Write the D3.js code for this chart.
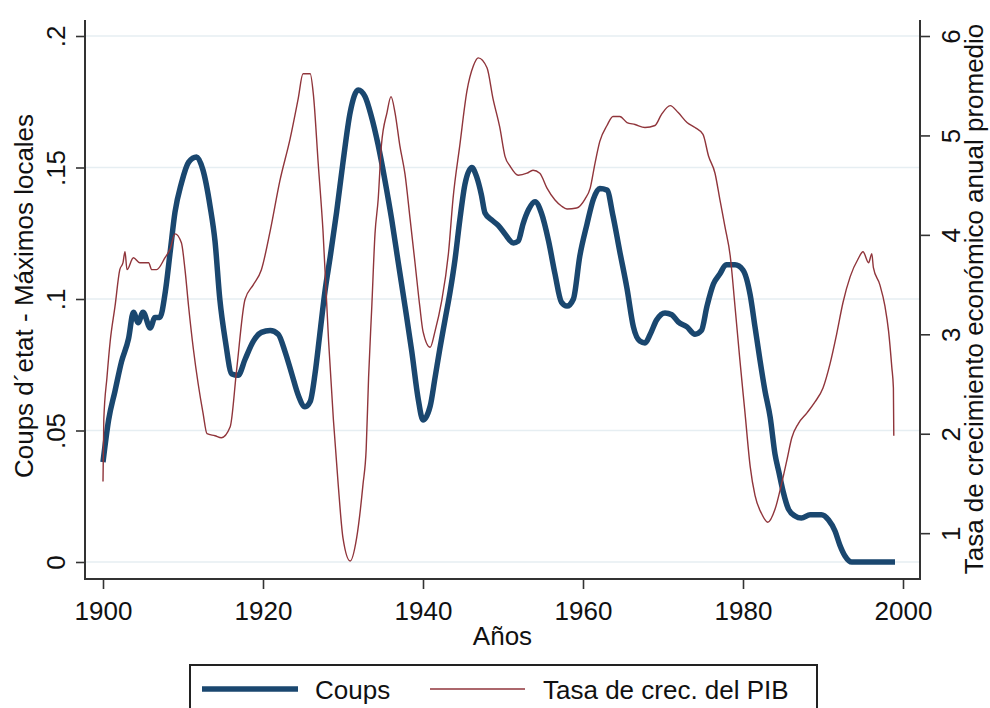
<!DOCTYPE html>
<html lang="es">
<head>
    <meta charset="UTF-8">
    <title>Coups y crecimiento del PIB</title>
    <script src="https://d3js.org/d3.v7.min.js"></script>
    <style>
        body {
            margin: 0;
            background: #ffffff;
            font-family: 'Liberation Sans', Arial, sans-serif;
        }
        text {
            fill: #111111;
        }
    </style>
</head>
<body>
<div id="chart"></div>

<script>
// Coups d'etat - local maxima (left axis)
const coupsYears = [1900.0, 1900.7, 1901.5, 1902.3, 1903.2, 1903.8, 1904.4, 1905.0, 1905.9, 1906.5,
    1907.1, 1907.8, 1908.4, 1909.0, 1909.8, 1910.7, 1911.7, 1912.5, 1913.4, 1914.0,
    1914.6, 1915.3, 1916.1, 1916.9, 1917.75, 1918.8, 1919.8, 1920.9, 1921.9, 1922.75,
    1923.6, 1924.4, 1925.25, 1925.9, 1926.5, 1927.1, 1927.75, 1928.4, 1929.2, 1930.0,
    1930.9, 1931.9, 1932.75, 1933.5, 1934.4, 1935.25, 1936.1, 1936.9, 1937.75, 1938.6,
    1939.4, 1940.0, 1940.9, 1941.5, 1942.1, 1942.75, 1943.4, 1944.0, 1944.6, 1945.25,
    1946.1, 1946.7, 1947.3, 1947.75, 1948.6, 1949.4, 1950.25, 1951.3, 1951.9, 1952.5,
    1953.2, 1954.0, 1954.8, 1955.7, 1956.5, 1957.3, 1958.0, 1958.8, 1959.6, 1960.5,
    1961.3, 1962.1, 1963.0, 1963.75, 1964.6, 1965.5, 1966.3, 1967.1, 1967.75, 1968.4,
    1969.2, 1970.25, 1971.1, 1971.9, 1973.0, 1974.0, 1974.8, 1975.5, 1976.3, 1977.1,
    1977.9, 1979.0, 1980.0, 1980.9, 1981.5, 1982.1, 1982.75, 1983.4, 1984.0, 1984.5,
    1985.0, 1985.7, 1986.5, 1987.3, 1988.4, 1989.8, 1990.7, 1991.5, 1992.1, 1992.75,
    1993.6, 1999.0];
const coupsValues = [0.038, 0.054, 0.065, 0.076, 0.085, 0.095, 0.091, 0.095, 0.089, 0.093,
    0.093, 0.103, 0.118, 0.133, 0.144, 0.152, 0.154, 0.149, 0.135, 0.122,
    0.100, 0.084, 0.0715, 0.071, 0.077, 0.084, 0.0873, 0.088, 0.0866, 0.080,
    0.0715, 0.0635, 0.059, 0.061, 0.0715, 0.0866, 0.103, 0.116, 0.133, 0.152,
    0.171, 0.1795, 0.177, 0.170, 0.1585, 0.145, 0.130, 0.114, 0.0973, 0.080,
    0.062, 0.054, 0.0593, 0.070, 0.081, 0.092, 0.103, 0.115, 0.130, 0.1437,
    0.150, 0.1465, 0.1396, 0.1327, 0.130, 0.128, 0.1247, 0.1213, 0.122, 0.1285,
    0.134, 0.137, 0.1327, 0.122, 0.1095, 0.0988, 0.0973, 0.100, 0.1163, 0.1285,
    0.138, 0.142, 0.1414, 0.1316, 0.118, 0.104, 0.0894, 0.084, 0.0833, 0.0866,
    0.092, 0.0947, 0.094, 0.0913, 0.0894, 0.0866, 0.088, 0.0973, 0.1057, 0.1095,
    0.113, 0.113, 0.111, 0.1015, 0.0894, 0.0772, 0.065, 0.055, 0.041, 0.034,
    0.027, 0.020, 0.0175, 0.0167, 0.018, 0.018, 0.016, 0.0118, 0.0065, 0.0023,
    0.0, 0.0];

// Tasa de crecimiento del PIB (right axis)
const pibYears = [1900.0, 1900.1, 1900.5, 1900.9, 1901.5, 1902.1, 1902.5, 1902.75, 1903.0, 1903.8,
    1904.6, 1905.7, 1906.1, 1906.7, 1907.75, 1908.4, 1909.0, 1909.8, 1910.25, 1910.7,
    1911.3, 1911.9, 1912.5, 1913.0, 1914.0, 1914.8, 1915.9, 1916.7, 1917.75, 1918.8,
    1919.8, 1920.9, 1922.1, 1923.4, 1924.4, 1925.0, 1925.9, 1926.3, 1926.9, 1927.5,
    1928.2, 1928.8, 1929.4, 1930.0, 1930.9, 1931.7, 1932.5, 1932.9, 1933.2, 1933.6,
    1934.0, 1934.4, 1934.8, 1935.5, 1936.0, 1936.5, 1937.1, 1937.75, 1938.4, 1939.0,
    1939.6, 1940.0, 1940.9, 1941.5, 1942.3, 1943.2, 1943.75, 1944.6, 1945.5, 1946.3,
    1946.9, 1948.0, 1948.75, 1949.6, 1950.25, 1950.9, 1951.9, 1953.0, 1953.75, 1954.6,
    1955.5, 1956.5, 1957.3, 1958.0, 1959.2, 1960.25, 1960.9, 1961.5, 1962.1, 1963.0,
    1963.75, 1964.6, 1965.5, 1966.5, 1967.75, 1969.0, 1969.8, 1970.9, 1971.9, 1973.0,
    1974.0, 1975.0, 1975.7, 1976.5, 1977.1, 1977.75, 1978.4, 1979.0, 1979.6, 1980.25,
    1980.9, 1981.5, 1982.3, 1983.1, 1984.0, 1984.8, 1985.5, 1986.1, 1986.9, 1988.0,
    1989.0, 1990.0, 1990.9, 1991.7, 1992.5, 1993.4, 1994.4, 1995.0, 1995.7, 1996.1,
    1996.3, 1997.1, 1997.75, 1998.2, 1998.6, 1998.8, 1998.85];
const pibValues = [1.52, 2.14, 2.57, 2.93, 3.28, 3.65, 3.72, 3.83, 3.65, 3.77,
    3.72, 3.72, 3.65, 3.65, 3.77, 3.86, 4.01, 3.92, 3.65, 3.28,
    2.85, 2.50, 2.21, 2.00, 1.98, 1.96, 2.07, 2.64, 3.35, 3.50,
    3.65, 4.04, 4.54, 4.97, 5.37, 5.62, 5.62, 5.41, 4.72, 4.04,
    2.93, 2.14, 1.49, 0.95, 0.72, 0.95, 1.49, 1.85, 2.57, 3.28,
    4.01, 4.36, 4.90, 5.23, 5.39, 5.23, 4.90, 4.61, 4.15, 3.72,
    3.28, 3.03, 2.87, 3.03, 3.32, 3.83, 4.36, 4.90, 5.45, 5.70,
    5.78, 5.68, 5.37, 5.08, 4.79, 4.69, 4.60, 4.62, 4.65, 4.62,
    4.47, 4.35, 4.29, 4.26, 4.27, 4.36, 4.47, 4.72, 4.94, 5.10,
    5.19, 5.19, 5.13, 5.11, 5.08, 5.10, 5.21, 5.30, 5.23, 5.13,
    5.08, 5.01, 4.79, 4.62, 4.36, 4.08, 3.79, 3.28, 2.75, 2.21,
    1.67, 1.38, 1.20, 1.11, 1.24, 1.49, 1.74, 1.96, 2.10, 2.21,
    2.32, 2.46, 2.71, 3.00, 3.32, 3.58, 3.76, 3.83, 3.72, 3.81,
    3.67, 3.50, 3.28, 3.03, 2.67, 2.46, 1.98];

// ticks
const xTicks = [1900, 1920, 1940, 1960, 1980, 2000];
const leftTicks = [0, 0.05, 0.1, 0.15, 0.2];
const leftTickLabels = ["0", ".05", ".1", ".15", ".2"];
const rightTicks = [1, 2, 3, 4, 5, 6];

const width = 990;
const height = 708;
const frame = { left: 85, right: 920, top: 20, bottom: 579 };
const navy = "#1a476f";
const maroon = "#90353b";

const svg = d3.select("#chart")
    .append("svg")
    .attr("width", width)
    .attr("height", height);

// scales
const xScale = d3.scaleLinear().domain([1900, 2000]).range([103, 903]);
const yLeft = d3.scaleLinear().domain([0, 0.2]).range([562, 36]);
const yRight = d3.scaleLinear().domain([0.71, 6]).range([562, 36]);

// gridlines
svg.append("g")
    .selectAll("line")
    .data(leftTicks)
    .enter()
    .append("line")
    .attr("x1", frame.left)
    .attr("x2", frame.right)
    .attr("y1", d => yLeft(d))
    .attr("y2", d => yLeft(d))
    .attr("stroke", "#e6eef2")
    .attr("stroke-width", 1.5);

// lines
const coupsData = coupsYears.map((y, i) => ({ year: y, value: coupsValues[i] }));
const pibData = pibYears.map((y, i) => ({ year: y, value: pibValues[i] }));

const coupsLine = d3.line()
    .x(d => xScale(d.year))
    .y(d => yLeft(d.value))
    .curve(d3.curveMonotoneX);

const pibLine = d3.line()
    .x(d => xScale(d.year))
    .y(d => yRight(d.value))
    .curve(d3.curveMonotoneX);

svg.append("path")
    .datum(coupsData)
    .attr("d", coupsLine)
    .attr("fill", "none")
    .attr("stroke", navy)
    .attr("stroke-width", 5.5)
    .attr("stroke-linejoin", "round");

svg.append("path")
    .datum(pibData)
    .attr("d", pibLine)
    .attr("fill", "none")
    .attr("stroke", maroon)
    .attr("stroke-width", 1.4);

// axes
const axisColor = "#333333";

const leftAxis = svg.append("g")
    .attr("transform", `translate(${frame.left},0)`)
    .call(d3.axisLeft(yLeft)
        .tickValues(leftTicks)
        .tickFormat((d, i) => leftTickLabels[i])
        .tickSize(9));

const rightAxis = svg.append("g")
    .attr("transform", `translate(${frame.right},0)`)
    .call(d3.axisRight(yRight)
        .tickValues(rightTicks)
        .tickFormat(d3.format("d"))
        .tickSize(10));

const bottomAxis = svg.append("g")
    .attr("transform", `translate(0,${frame.bottom})`)
    .call(d3.axisBottom(xScale)
        .tickValues(xTicks)
        .tickFormat(d3.format("d"))
        .tickSize(10));

[leftAxis, rightAxis, bottomAxis].forEach(g => {
    g.select(".domain").remove();
    g.selectAll(".tick line").attr("stroke", axisColor).attr("stroke-width", 1.6);
    g.selectAll(".tick text")
        .style("font-family", "'Liberation Sans', Arial, sans-serif")
        .style("font-size", "26px")
        .attr("fill", "#111111");
});

leftAxis.selectAll(".tick text")
    .attr("x", 0)
    .attr("dy", 0)
    .attr("text-anchor", "middle")
    .attr("transform", "translate(-20,0) rotate(-90)");

rightAxis.selectAll(".tick text")
    .attr("x", 0)
    .attr("dy", 0)
    .attr("text-anchor", "middle")
    .attr("transform", "translate(40,0) rotate(-90)");

bottomAxis.selectAll(".tick text")
    .attr("y", 41)
    .attr("dy", 0);

// axis lines (left, bottom, right)
svg.append("path")
    .attr("d", `M${frame.left},${frame.top}V${frame.bottom}H${frame.right}V${frame.top}`)
    .attr("fill", "none")
    .attr("stroke", axisColor)
    .attr("stroke-width", 2);

// axis titles
svg.append("text")
    .attr("x", (frame.left + frame.right) / 2)
    .attr("y", 645)
    .attr("text-anchor", "middle")
    .style("font-size", "26px")
    .text("Años");

svg.append("text")
    .attr("transform", "translate(33,296) rotate(-90)")
    .attr("text-anchor", "middle")
    .style("font-size", "26px")
    .text("Coups d´etat - Máximos locales");

svg.append("text")
    .attr("transform", "translate(983,299) rotate(-90)")
    .attr("text-anchor", "middle")
    .style("font-size", "26px")
    .text("Tasa de crecimiento económico anual promedio");

// legend
const legend = svg.append("g");

legend.append("rect")
    .attr("x", 190)
    .attr("y", 665)
    .attr("width", 627)
    .attr("height", 70)
    .attr("fill", "#ffffff")
    .attr("stroke", "#222222")
    .attr("stroke-width", 2);

const legendItems = [
    { label: "Coups", color: navy, w: 5.5, x0: 202, x1: 298, tx: 315 },
    { label: "Tasa de crec. del PIB", color: maroon, w: 1.4, x0: 430, x1: 525, tx: 543 }
];

legend.selectAll(".key")
    .data(legendItems)
    .enter()
    .append("line")
    .attr("class", "key")
    .attr("x1", d => d.x0)
    .attr("x2", d => d.x1)
    .attr("y1", 689)
    .attr("y2", 689)
    .attr("stroke", d => d.color)
    .attr("stroke-width", d => d.w);

legend.selectAll(".label")
    .data(legendItems)
    .enter()
    .append("text")
    .attr("class", "label")
    .attr("x", d => d.tx)
    .attr("y", 699)
    .style("font-size", "26px")
    .text(d => d.label);
</script>
</body>
</html>
